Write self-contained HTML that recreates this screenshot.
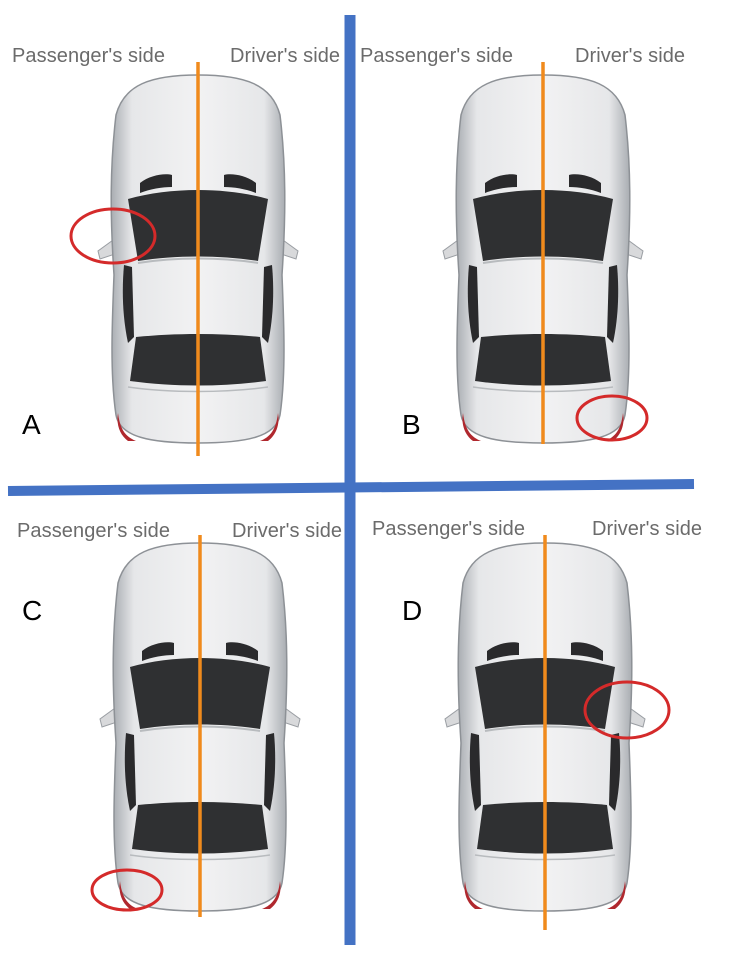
<!DOCTYPE html>
<html><head><style>
html,body{margin:0;padding:0;background:#fff;}
svg{display:block}
text{font-family:"Liberation Sans",sans-serif}
</style></head><body>
<svg width="748" height="953" viewBox="0 0 748 953" xmlns="http://www.w3.org/2000/svg">
<defs>
<linearGradient id="bg" x1="0" x2="1" y1="0" y2="0">
<stop offset="0" stop-color="#a9adb2"/><stop offset="0.12" stop-color="#e6e7e9"/><stop offset="0.5" stop-color="#f2f2f3"/><stop offset="0.88" stop-color="#e6e7e9"/><stop offset="1" stop-color="#a9adb2"/>
</linearGradient>
<g id="car">
<path d="M10 160 L-12 176 L-10 184 L14 176 Z" fill="#d8d9db" stroke="#9a9ea3" stroke-width="1"/>
<path d="M166 160 L188 176 L186 184 L162 176 Z" fill="#d8d9db" stroke="#9a9ea3" stroke-width="1"/>
<path d="M88 0 C40 0 14 10 6 40 C0 90 0 140 4 200 C2 250 0 300 6 340 C10 362 40 368 88 368 C136 368 166 362 170 340 C176 300 174 250 172 200 C176 140 176 90 170 40 C162 10 136 0 88 0 Z" fill="url(#bg)" stroke="#8d9196" stroke-width="1.5"/>
<path d="M8 338 C10 355 16 362 26 366 L18 366 C10 360 6 350 8 338Z" fill="#b0282e"/>
<path d="M168 338 C166 355 160 362 150 366 L158 366 C166 360 170 350 168 338Z" fill="#b0282e"/>
<path d="M30 108 C40 100 55 98 62 100 L62 112 C52 112 40 114 30 118 Z" fill="#2a2a2c"/>
<path d="M146 108 C136 100 121 98 114 100 L114 112 C124 112 136 114 146 118 Z" fill="#2a2a2c"/>
<path d="M18 124 C60 112 116 112 158 124 L148 186 C110 180 66 180 28 186 Z" fill="#2f3032"/>
<path d="M14 190 L22 192 L24 262 L18 268 C12 240 12 212 14 190Z" fill="#2a2a2c"/>
<path d="M162 190 L154 192 L152 262 L158 268 C164 240 164 212 162 190Z" fill="#2a2a2c"/>
<path d="M28 188 C66 182 110 182 148 188" fill="none" stroke="#b8bbbe" stroke-width="2"/>
<path d="M26 262 C66 258 110 258 150 262 L156 306 C112 312 64 312 20 306 Z" fill="#2f3032"/>
<path d="M18 312 C60 318 116 318 158 312" fill="none" stroke="#b8bbbe" stroke-width="1.5"/>
</g>
</defs>

<line x1="350" y1="15" x2="350" y2="945" stroke="#4472c4" stroke-width="11"/>
<line x1="8" y1="491" x2="694" y2="484" stroke="#4472c4" stroke-width="10"/>

<use href="#car" x="110" y="75"/>
<use href="#car" x="455" y="75"/>
<use href="#car" x="112" y="543"/>
<use href="#car" x="457" y="543"/>

<line x1="198" y1="62" x2="198" y2="456" stroke="#f08a1c" stroke-width="3.5"/>
<line x1="543" y1="62" x2="543" y2="444" stroke="#f08a1c" stroke-width="3.5"/>
<line x1="200" y1="535" x2="200" y2="917" stroke="#f08a1c" stroke-width="3.5"/>
<line x1="545" y1="535" x2="545" y2="930" stroke="#f08a1c" stroke-width="3.5"/>

<g font-size="20" fill="#6b6b6b">
<text x="12" y="62" textLength="153">Passenger's side</text>
<text x="230" y="62" textLength="110">Driver's side</text>
<text x="360" y="62" textLength="153">Passenger's side</text>
<text x="575" y="62" textLength="110">Driver's side</text>
<text x="17" y="537" textLength="153">Passenger's side</text>
<text x="232" y="537" textLength="110">Driver's side</text>
<text x="372" y="535" textLength="153">Passenger's side</text>
<text x="592" y="535" textLength="110">Driver's side</text>
</g>
<g font-size="28" fill="#000">
<text x="22" y="434">A</text>
<text x="402" y="434">B</text>
<text x="22" y="620">C</text>
<text x="402" y="620">D</text>
</g>

<g fill="none" stroke="#d42a2a" stroke-width="3">
<ellipse cx="113" cy="236" rx="42" ry="27"/>
<ellipse cx="612" cy="418" rx="35" ry="22"/>
<ellipse cx="127" cy="890" rx="35" ry="20"/>
<ellipse cx="627" cy="710" rx="42" ry="28"/>
</g>
</svg>
</body></html>
